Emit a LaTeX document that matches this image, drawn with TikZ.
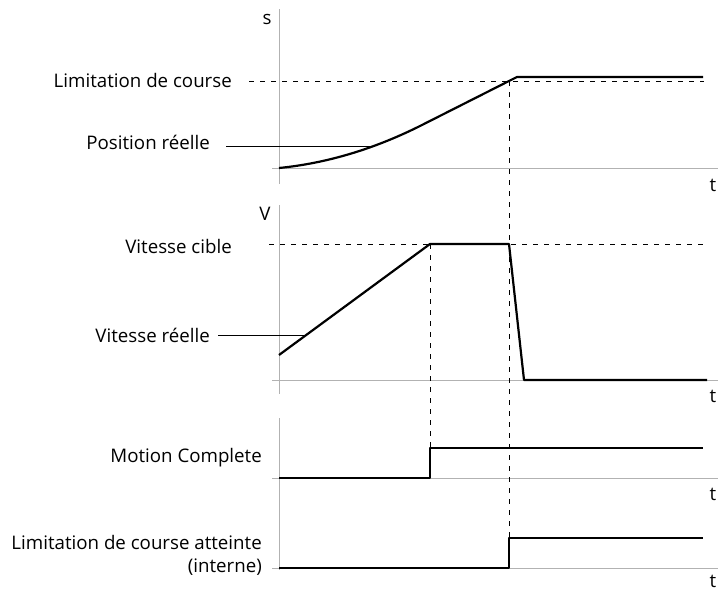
\documentclass[tikz,border=0pt]{standalone}
\usepackage{fontspec}
\setmainfont{Open Sans}
\begin{document}
\begin{tikzpicture}[x=1pt,y=-1pt,
  axis/.style={draw=black!30, line width=1pt},
  sig/.style={line width=2.2pt, line join=round},
  guide/.style={dash pattern=on 5pt off 6pt, line width=0.9pt},
  pointer/.style={line width=1pt},
  lbl/.style={font=\fontsize{18.7}{22}\selectfont, inner sep=0pt, anchor=east},
  axlbl/.style={font=\fontsize{18.7}{22}\selectfont, inner sep=0pt}]
\useasboundingbox (0,0) rectangle (721,592);
% axes
\coordinate (s0) at (279,9);
\coordinate (s1) at (279,184);
\coordinate (h1a) at (272,168);
\coordinate (h1b) at (718,168);
\coordinate (v0) at (279,205);
\coordinate (v1) at (279,394);
\coordinate (h2a) at (272,380);
\coordinate (h2b) at (718,380);
\coordinate (m0) at (279,418);
\coordinate (m1) at (279,570);
\coordinate (h3a) at (272,478);
\coordinate (h3b) at (718,478);
\coordinate (h4a) at (272,568);
\coordinate (h4b) at (718,568);
\draw[axis] (s0) -- (s1);
\draw[axis] (h1a) -- (h1b);
\draw[axis] (v0) -- (v1);
\draw[axis] (h2a) -- (h2b);
\draw[axis] (m0) -- (m1);
\draw[axis] (h3a) -- (h3b);
\draw[axis] (h4a) -- (h4b);
% axis labels
\node[axlbl] (ls) at (267,19) {s};
\node[axlbl] (lv) at (265,214) {V};
\node[axlbl] (t1) at (713,185) {t};
\node[axlbl] (t2) at (713,396) {t};
\node[axlbl] (t3) at (713,494) {t};
\node[axlbl] (t4) at (713,581) {t};
% labels
\node[lbl] (llim) at (232,80) {Limitation de course};
\node[lbl] (lpos) at (210,142) {Position réelle};
\node[lbl] (lvc) at (232,246) {Vitesse cible};
\node[lbl] (lvr) at (210,335) {Vitesse réelle};
\node[lbl] (lmc) at (262,458) {Motion Complete};
\node[lbl] (lla) at (262,542) {Limitation de course atteinte};
\node[lbl] (lint) at (262,567) {(interne)};
% guide coordinates
\coordinate (dl0) at (249,81);
\coordinate (dl1) at (704,81);
\coordinate (dv0) at (269,244);
\coordinate (dv1) at (705,244);
\coordinate (x1top) at (430,244);
\coordinate (x1bot) at (430,448);
\coordinate (x2top) at (509,81);
\coordinate (x2bot) at (509,538);
\draw[guide] (dl0) -- (dl1);
\draw[guide] (dv0) -- (dv1);
\draw[guide] (x1top) -- (x1bot);
\draw[guide] (x2top) -- (x2bot);
% pointers
\coordinate (ppos) at (375,146);
\coordinate (pvr) at (307,335);
\draw[pointer] ([xshift=16pt]lpos.east |- ppos) -- (ppos);
\draw[pointer] ([xshift=8pt]lvr.east |- pvr) -- (pvr);
% position signal
\draw[sig] (279,168) .. controls (326.3,163.3) and (373.3,149.3) .. (420,126) -- (507,82) -- (517,77) -- (703,77);
% velocity signal
\draw[sig] (279,355) -- (430,244) -- (509,244) -- (524,380) -- (707,380);
% motion complete
\draw[sig] (279,478) -- (430,478) -- (430,448) -- (703,448);
% limitation atteinte
\draw[sig] (279,568) -- (509,568) -- (509,538) -- (703,538);
\end{tikzpicture}
\end{document}
